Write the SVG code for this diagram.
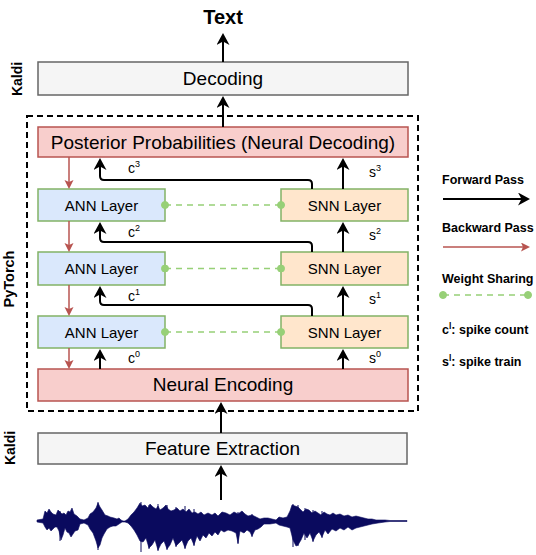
<svg xmlns="http://www.w3.org/2000/svg" width="536" height="555" viewBox="0 0 536 555">
<style>
text{font-family:"Liberation Sans",Arial,sans-serif;fill:#000}
.b{font-weight:bold}
.gray{fill:#f5f5f5;stroke:#666;stroke-width:1.5}
.red{fill:#f8cecc;stroke:#b85450;stroke-width:1.5}
.ann{fill:#dae8fc;stroke:#82b366;stroke-width:1.5}
.snn{fill:#ffe6cc;stroke:#82b366;stroke-width:1.5}
.fw{fill:none;stroke:#000;stroke-width:2;marker-end:url(#ah)}
.bw{fill:none;stroke:#b85450;stroke-width:1.5;marker-end:url(#rh)}
.ws{fill:none;stroke:#97d077;stroke-width:1.5;stroke-dasharray:6 5}
.dot{fill:#97d077;stroke:#97d077}
.big{font-size:19px}
.lay{font-size:15px}
.lbl{font-size:14px}
.sup{font-size:9px}
.leg{font-size:12.5px;font-weight:bold}
</style>
<defs>
<marker id="ah" markerUnits="userSpaceOnUse" markerWidth="14" markerHeight="14" refX="9" refY="6.5" orient="auto">
<path d="M0,0 L12,6.5 L0,13 L3.5,6.5 Z" fill="#000"/>
</marker>
<marker id="rh" markerUnits="userSpaceOnUse" markerWidth="12" markerHeight="12" refX="7" refY="4.5" orient="auto">
<path d="M0,0 L9,4.5 L0,9 L2,4.5 Z" fill="#b85450"/>
</marker>
</defs>

<rect x="27" y="116" width="391" height="295" fill="none" stroke="#000" stroke-width="2" stroke-dasharray="6 4"/>

<text class="b" x="223" y="24" text-anchor="middle" font-size="20">Text</text>
<text class="b" font-size="14" text-anchor="middle" transform="translate(22,79) rotate(-90)">Kaldi</text>
<text class="b" font-size="14.5" text-anchor="middle" transform="translate(14,279) rotate(-90)">PyTorch</text>
<text class="b" font-size="14" text-anchor="middle" transform="translate(15,448) rotate(-90)">Kaldi</text>

<g id="decoding"><rect class="gray" x="38" y="62" width="370" height="33"/><text class="big" x="223" y="85" text-anchor="middle">Decoding</text></g>
<g id="posterior"><rect class="red" x="38" y="127" width="370" height="30"/><text class="big" x="223" y="149" text-anchor="middle">Posterior Probabilities (Neural Decoding)</text></g>
<g id="ann3"><rect class="ann" x="38" y="189" width="127" height="32"/><text class="lay" x="101.5" y="210.5" text-anchor="middle">ANN Layer</text></g>
<g id="snn3"><rect class="snn" x="281" y="189" width="127" height="32"/><text class="lay" x="344.5" y="210.5" text-anchor="middle">SNN Layer</text></g>
<g id="ann2"><rect class="ann" x="38" y="252" width="127" height="33"/><text class="lay" x="101.5" y="274" text-anchor="middle">ANN Layer</text></g>
<g id="snn2"><rect class="snn" x="281" y="252" width="127" height="33"/><text class="lay" x="344.5" y="274" text-anchor="middle">SNN Layer</text></g>
<g id="ann1"><rect class="ann" x="38" y="316" width="127" height="32"/><text class="lay" x="101.5" y="337.5" text-anchor="middle">ANN Layer</text></g>
<g id="snn1"><rect class="snn" x="281" y="316" width="127" height="32"/><text class="lay" x="344.5" y="337.5" text-anchor="middle">SNN Layer</text></g>
<g id="encoding"><rect class="red" x="38" y="369" width="370" height="32"/><text class="big" x="223" y="391" text-anchor="middle" font-size="18">Neural Encoding</text></g>
<g id="feature"><rect class="gray" x="38" y="433" width="369" height="31"/><text class="big" x="222.5" y="455" text-anchor="middle">Feature Extraction</text></g>

<g id="waveform">
<path fill="#0a0a5e" stroke="#0a0a5e" stroke-width="0.6" d="M37,520 L43,519 45,511 47,513 49,509 51,512 53,514 56,515 58,510 60,512 62,514 64,513 66,515 68,511 70,512 72,508 74,514 77,516 80,519 84,520 88,518 90,514 93,512 96,508 98,503 100,507 102,510 105,515 108,516 110,517 114,518 117,519 119,518 121,520 123,521 125,521 128,519 131,515 134,512 137,508 140,503 142,506 145,505 148,508 150,504 153,507 156,509 158,506 160,510 163,508 166,505 168,509 171,511 174,510 177,508 180,511 183,509 186,512 189,509 192,513 195,512 198,514 201,512 204,515 208,513 212,515 215,513 218,516 222,512 226,513 230,515 234,512 238,514 242,511 245,514 248,516 252,515 256,517 260,519 264,518 268,518 272,519 276,520 279,517 283,518 287,517 290,511 292,505 295,506 298,507 300,509 303,512 306,509 309,510 312,513 315,511 318,513 321,515 324,512 327,514 330,515 333,513 336,515 340,514 344,516 348,515 352,517 356,516 360,517 364,518 368,519 372,519 376,520 380,520 385,520 390,520.5 407,520.5 L407,521.5 390,521.5 385,522 378,523 372,524 368,525 364,526 360,527 356,528 352,530 348,527 344,530 340,528 336,531 332,529 328,534 325,530 322,537 319,532 316,535 313,541 310,533 307,538 304,533 301,540 298,545 296,546 293,540 290,528 287,527 283,526 279,525 276,523 270,524 264,524 261,527 258,529 255,530 252,536 250,532 247,530 244,533 240,531 238,543 236,533 232,531 228,530 224,532 221,530 218,535 215,532 212,536 209,533 206,538 203,535 200,541 197,536 194,545 191,538 188,541 185,548 182,540 179,543 176,546 173,538 170,545 167,549 164,541 161,544 158,550 155,540 152,545 149,548 146,538 143,542 140,541 137,535 134,530 131,526 128,523 125,522 122,522 119,524 116,526 113,526 110,527 107,529 104,534 102,538 100,545 98,548 96,541 93,533 90,529 88,525 84,523 80,524 78,530 75,531 73,534 71,537 69,533 67,532 65,528 63,535 61,540 59,531 57,527 55,527 53,529 51,531 49,528 47,530 45,527 43,523 37,522 Z"/>
<path fill="none" stroke="#0a0a5e" stroke-width="1" d="M60,511 V541 M98,502 V550 M141,502 V552 M149,505 V549 M158,504 V551 M167,505 V550 M176,507 V547 M185,506 V549 M194,509 V546 M238,512 V544 M252,514 V537 M293,504 V547 M298,505 V546 M305,508 V540 M313,510 V542 M322,511 V538"/>
</g>

<g id="connectors">
<path class="fw" d="M223,62 V36"/>
<path class="fw" d="M223,127 V99"/>
<path class="fw" d="M343,189 V161"/>
<path class="fw" d="M312,189 V184 Q312,180 308,180 H104 Q100,180 100,176 V161"/>
<path class="fw" d="M343,252 V225"/>
<path class="fw" d="M312,252 V246 Q312,242 308,242 H104 Q100,242 100,238 V225"/>
<path class="fw" d="M343,316 V289"/>
<path class="fw" d="M312,316 V309 Q312,305 308,305 H104 Q100,305 100,301 V289"/>
<path class="fw" d="M343,369 V352"/>
<path class="fw" d="M100,369 V352"/>
<path class="fw" d="M221,433 V405"/>
<path class="fw" d="M221,500 V468"/>
<path class="bw" d="M69,157 V187"/>
<path class="bw" d="M69,221 V250"/>
<path class="bw" d="M69,285 V314"/>
<path class="bw" d="M69,348 V367"/>
<path class="ws" d="M165,205 H281"/><circle class="dot" cx="165" cy="205" r="3.5"/><circle class="dot" cx="281" cy="205" r="3.5"/>
<path class="ws" d="M165,268.5 H281"/><circle class="dot" cx="165" cy="268.5" r="3.5"/><circle class="dot" cx="281" cy="268.5" r="3.5"/>
<path class="ws" d="M165,332 H281"/><circle class="dot" cx="165" cy="332" r="3.5"/><circle class="dot" cx="281" cy="332" r="3.5"/>
</g>

<g id="edge-labels">
<text class="lbl" x="128" y="173">c<tspan class="sup" dy="-6">3</tspan></text>
<text class="lbl" x="128" y="237">c<tspan class="sup" dy="-6">2</tspan></text>
<text class="lbl" x="128" y="301">c<tspan class="sup" dy="-6">1</tspan></text>
<text class="lbl" x="128" y="363">c<tspan class="sup" dy="-6">0</tspan></text>
<text class="lbl" x="369" y="177">s<tspan class="sup" dy="-6">3</tspan></text>
<text class="lbl" x="369" y="240">s<tspan class="sup" dy="-6">2</tspan></text>
<text class="lbl" x="369" y="304">s<tspan class="sup" dy="-6">1</tspan></text>
<text class="lbl" x="369" y="363">s<tspan class="sup" dy="-6">0</tspan></text>
</g>

<g id="legend">
<text class="leg" x="442" y="184">Forward Pass</text>
<path class="fw" d="M443,199 H527"/>
<text class="leg" x="442" y="232">Backward Pass</text>
<path class="bw" d="M443,247 H528"/>
<text class="leg" x="442" y="283">Weight Sharing</text>
<path class="ws" d="M443,295 H528"/><circle class="dot" cx="443" cy="295" r="3.5"/><circle class="dot" cx="528" cy="295" r="3.5"/>
<text class="leg" x="442" y="334">c<tspan font-size="8.5" dy="-5">l</tspan><tspan dy="5">: spike count</tspan></text>
<text class="leg" x="442" y="366">s<tspan font-size="8.5" dy="-5">l</tspan><tspan dy="5">: spike train</tspan></text>
</g>
</svg>
